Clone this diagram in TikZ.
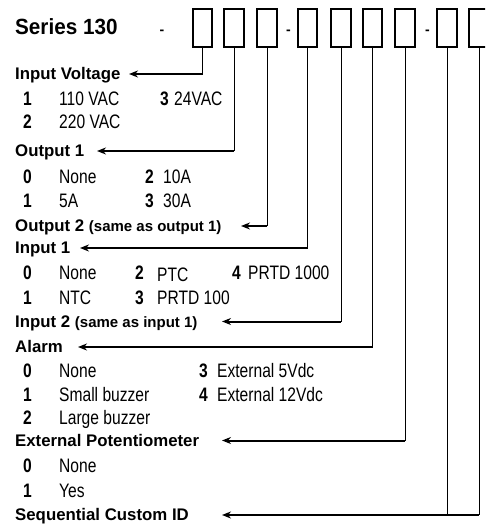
\documentclass[tikz,border=0pt]{standalone}
\usepackage{fontspec}
\setmainfont{Liberation Sans}
\newfontfamily\optfont[FakeStretch=0.80]{Liberation Sans}
\newfontfamily\serfont[FakeStretch=0.94]{Liberation Sans}
\usetikzlibrary{arrows.meta}
\tikzset{
  digitbox/.style={draw, line width=2.2pt, minimum width=19.5pt, minimum height=38pt, inner sep=0pt},
  ttl/.style={anchor=base west, inner sep=0pt, font=\fontsize{16.8}{18}\selectfont\bfseries},
  dashmark/.style={anchor=base, inner sep=0pt, font=\fontsize{14}{16}\selectfont\bfseries},
  opttxt/.style={anchor=base west, inner sep=0pt, font=\optfont\fontsize{19.5}{21}\selectfont},
  optdig/.style={anchor=base west, inner sep=0pt, font=\optfont\fontsize{19.5}{21}\selectfont\bfseries},
  vline/.style={line width=1pt},
  hline/.style={line width=2pt, -{Stealth[length=9pt,width=7pt]}},
}
\newcommand{\paren}[1]{{\fontsize{15}{16}\selectfont #1}}
\begin{document}
\begin{tikzpicture}[x=1pt,y=-1pt]
\clip (0,0) rectangle (485,526);
% header
\node[ttl] (series) at (15,34.5) {\serfont\fontsize{22}{24}\selectfont\bfseries Series 130};
\node[dashmark] (d0) at (162,34.3) {-};
\node[digitbox] (b1) at (202.5,28.3) {};
\node[digitbox] (b2) at (234,28.3) {};
\node[digitbox] (b3) at (267,28.3) {};
\node[dashmark] (d1) at (288.5,34.3) {-};
\node[digitbox] (b4) at (307.5,28.3) {};
\node[digitbox] (b5) at (341,28.3) {};
\node[digitbox] (b6) at (372.5,28.3) {};
\node[digitbox] (b7) at (405,28.3) {};
\node[dashmark] (d2) at (427.5,34.3) {-};
\node[digitbox] (b8) at (447,28.3) {};
\node[digitbox] (b9) at (479,28.3) {};
% titles
\node[ttl] (t1) at (15,79.8) {Input Voltage};
\node[ttl] (t2) at (15,156.8) {Output 1};
\node[ttl] (t3) at (15,231.8) {Output 2 \paren{(same as output 1)}};
\node[ttl] (t4) at (15,253.8) {Input 1};
\node[ttl] (t5) at (15,327.3) {Input 2 \paren{(same as input 1)}};
\node[ttl] (t6) at (15,352.8) {Alarm};
\node[ttl] (t7) at (15,446.3) {External Potentiometer};
\node[ttl] (t8) at (15,520.8) {Sequential Custom ID};
% arrow tips
\coordinate (a1) at (129,74);
\coordinate (a2) at (97,151);
\coordinate (a3) at (241,226);
\coordinate (a4) at (80,248);
\coordinate (a5) at (222,321.5);
\coordinate (a6) at (78,347);
\coordinate (a7) at (222,440.5);
\coordinate (a8) at (222,515);
% options: input voltage
\node[optdig] (iv1n) at (23,105.5) {1};
\node[opttxt] (iv1t) at (59,105.5) {110 VAC};
\node[optdig] (iv3n) at (160,105.5) {3};
\node[opttxt] (iv3t) at (174,105.5) {24VAC};
\node[optdig] (iv2n) at (23,128.5) {2};
\node[opttxt] (iv2t) at (59,128.5) {220 VAC};
% output 1
\node[optdig] (o0n) at (23,183.5) {0};
\node[opttxt] (o0t) at (59,183.5) {None};
\node[optdig] (o2n) at (145,183.5) {2};
\node[opttxt] (o2t) at (163,183.5) {10A};
\node[optdig] (o1n) at (23,207.5) {1};
\node[opttxt] (o1t) at (59,207.5) {5A};
\node[optdig] (o3n) at (145,207.5) {3};
\node[opttxt] (o3t) at (163,207.5) {30A};
% input 1
\node[optdig] (i0n) at (23,279.5) {0};
\node[opttxt] (i0t) at (59,279.5) {None};
\node[optdig] (i2n) at (135,279.5) {2};
\node[opttxt] (i2t) at (157,281) {PTC};
\node[optdig] (i4n) at (232,279.5) {4};
\node[opttxt] (i4t) at (248,279.5) {PRTD 1000};
\node[optdig] (i1n) at (23,304.5) {1};
\node[opttxt] (i1t) at (59,304.5) {NTC};
\node[optdig] (i3n) at (135,304.5) {3};
\node[opttxt] (i3t) at (157,304.5) {PRTD 100};
% alarm
\node[optdig] (al0n) at (23,377.5) {0};
\node[opttxt] (al0t) at (59,377.5) {None};
\node[optdig] (al3n) at (199,377.5) {3};
\node[opttxt] (al3t) at (217,377.5) {External 5Vdc};
\node[optdig] (al1n) at (23,401) {1};
\node[opttxt] (al1t) at (59,401) {Small buzzer};
\node[optdig] (al4n) at (199,401) {4};
\node[opttxt] (al4t) at (217,401) {External 12Vdc};
\node[optdig] (al2n) at (23,424.5) {2};
\node[opttxt] (al2t) at (59,424.5) {Large buzzer};
% external potentiometer
\node[optdig] (ep0n) at (23,472.5) {0};
\node[opttxt] (ep0t) at (59,472.5) {None};
\node[optdig] (ep1n) at (23,497.5) {1};
\node[opttxt] (ep1t) at (59,497.5) {Yes};
% connectors
\draw[vline] (b1.south) -- (b1.south |- a1);
\draw[hline] (b1.south |- a1) -- (a1);
\draw[vline] (b2.south) -- (b2.south |- a2);
\draw[hline] (b2.south |- a2) -- (a2);
\draw[vline] (b3.south) -- (b3.south |- a3);
\draw[hline] (b3.south |- a3) -- (a3);
\draw[vline] (b4.south) -- (b4.south |- a4);
\draw[hline] (b4.south |- a4) -- (a4);
\draw[vline] (b5.south) -- (b5.south |- a5);
\draw[hline] (b5.south |- a5) -- (a5);
\draw[vline] (b6.south) -- (b6.south |- a6);
\draw[hline] (b6.south |- a6) -- (a6);
\draw[vline] (b7.south) -- (b7.south |- a7);
\draw[hline] (b7.south |- a7) -- (a7);
\draw[vline] (b8.south) -- (b8.south |- a8);
\draw[vline] (b9.south) -- (b9.south |- a8);
\draw[hline] (b9.south |- a8) -- (a8);
\end{tikzpicture}
\end{document}
